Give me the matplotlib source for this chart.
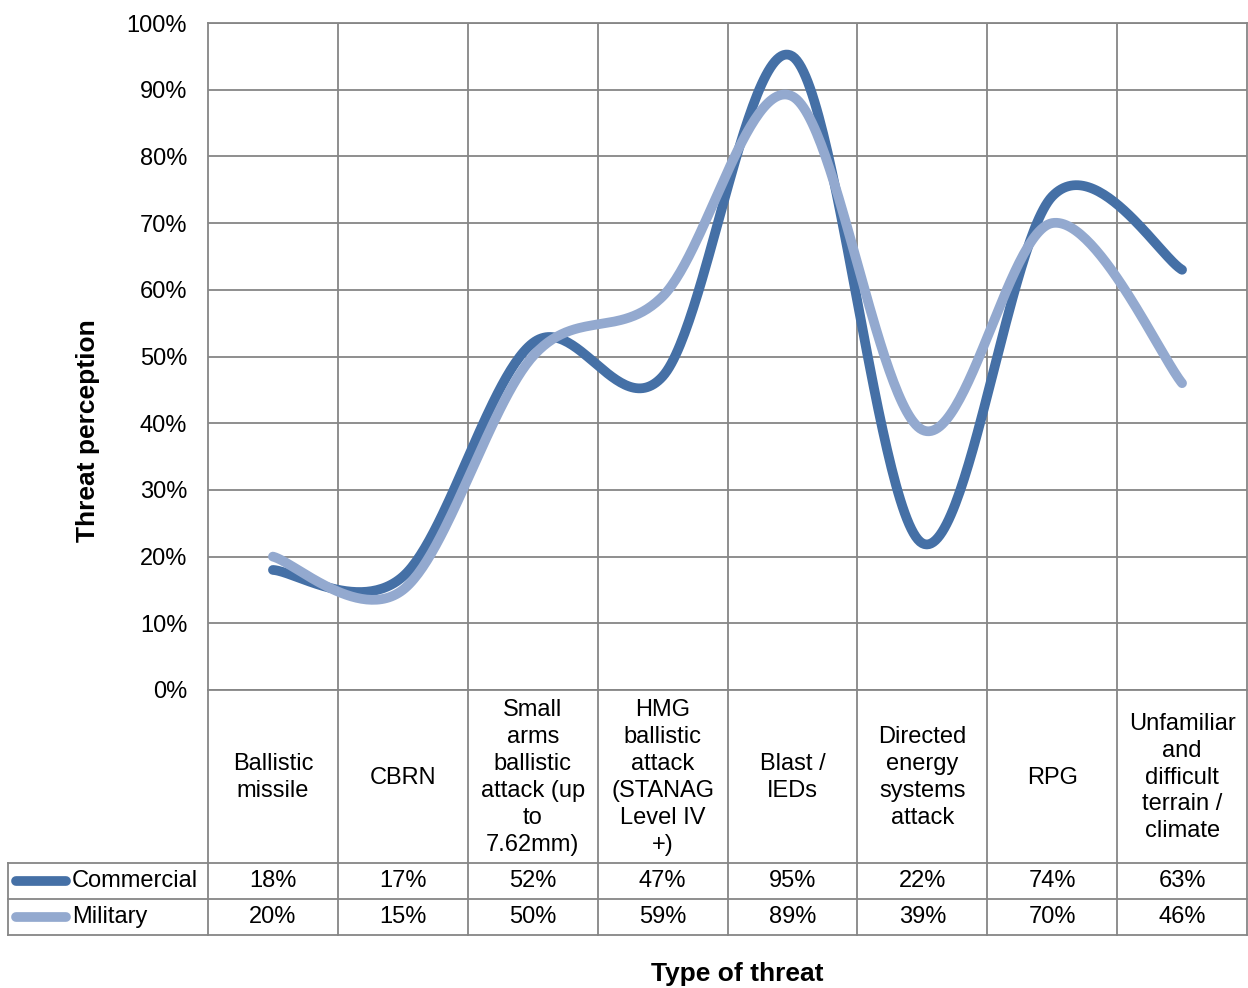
import numpy as np
import matplotlib.pyplot as plt

plt.rcParams['font.family'] = ['Liberation Sans', 'DejaVu Sans']

# Threat categories (wrapped as in the data table)
categories = ['Ballistic\nmissile', 'CBRN',
              'Small\narms\nballistic\nattack (up\nto\n7.62mm)',
              'HMG\nballistic\nattack\n(STANAG\nLevel IV\n+)',
              'Blast /\nIEDs', 'Directed\nenergy\nsystems\nattack', 'RPG',
              'Unfamiliar\nand\ndifficult\nterrain /\nclimate']
commercial = [18, 17, 52, 47, 95, 22, 74, 63]
military = [20, 15, 50, 59, 89, 39, 70, 46]
series_names = ['Commercial', 'Military']
colors = ['#4570a6', '#93a9cf']
yticks = [0, 10, 20, 30, 40, 50, 60, 70, 80, 90, 100]

W, H = 1248, 988
grid_c = '#868686'
fs = 17
lw = 7


def smooth(y, n=60):
    # Catmull-Rom style bezier smoothing between consecutive points
    x = np.arange(len(y)) + 0.5
    p = np.column_stack([x, y]).astype(float)
    pts = np.vstack([p[0], p, p[-1]])
    out = []
    t = np.linspace(0, 1, n)[:, None]
    for i in range(1, len(pts) - 2):
        p0, p1, p2, p3 = pts[i - 1], pts[i], pts[i + 1], pts[i + 2]
        c1 = p1 + (p2 - p0) / 6
        c2 = p2 - (p3 - p1) / 6
        seg = ((1 - t) ** 3) * p1 + 3 * ((1 - t) ** 2) * t * c1 \
            + 3 * (1 - t) * t ** 2 * c2 + t ** 3 * p2
        out.append(seg)
    s = np.vstack(out)
    return s[:, 0], s[:, 1]


fig = plt.figure(figsize=(W / 100, H / 100), dpi=100)

# plot area
x0, x1, y_top, y_bot = 208, 1247, 23, 690
ax = fig.add_axes([x0 / W, 1 - y_bot / H, (x1 - x0) / W, (y_bot - y_top) / H])
n = len(categories)
ax.set_xlim(0, n)
ax.set_ylim(0, 100)
ax.set_yticks(yticks)
ax.set_yticklabels(['%d%%' % v for v in yticks], fontsize=fs)
ax.set_xticks([])
ax.tick_params(axis='y', length=0, pad=15)
ax.grid(axis='y', color=grid_c, lw=1.3)
for k in range(1, n):
    ax.axvline(k, color=grid_c, lw=1.3, zorder=1)
for sp in ax.spines.values():
    sp.set_color(grid_c)
    sp.set_linewidth(1.3)
ax.set_axisbelow(True)

for vals, c in zip([commercial, military], colors):
    sx, sy = smooth(vals)
    ax.plot(sx, sy, color=c, lw=lw, solid_capstyle='round', clip_on=False, zorder=3)

# data table below the plot, in pixel coordinates
ov = fig.add_axes([0, 0, 1, 1], zorder=-1)
ov.set_xlim(0, W)
ov.set_ylim(H, 0)
ov.axis('off')

r_cat, r1, r2, r_end = 690, 863, 899, 935
left = 8
colw = (x1 - x0) / n
for k in range(n + 1):
    xx = x0 + k * colw
    ov.plot([xx, xx], [r_cat, r_end], color=grid_c, lw=1.3)
for yy in [r1, r2, r_end]:
    ov.plot([left, x1], [yy, yy], color=grid_c, lw=1.3)
ov.plot([left, left], [r1, r_end], color=grid_c, lw=1.3)

for k, lab in enumerate(categories):
    cx = x0 + (k + 0.5) * colw
    ov.text(cx, (r_cat + r1) / 2 + 1, lab, ha='center', va='center',
            fontsize=fs, linespacing=1.29)

for (ya, yb), name, vals, c in zip([(r1, r2), (r2, r_end)], series_names,
                                   [commercial, military], colors):
    yc = (ya + yb) / 2
    ov.plot([16, 66], [yc, yc], color=c, lw=lw, solid_capstyle='round')
    ov.text(72, yc, name, ha='left', va='center', fontsize=fs)
    for k, v in enumerate(vals):
        ov.text(x0 + (k + 0.5) * colw, yc, '%d%%' % v, ha='center',
                va='center', fontsize=fs)

fig.text(88 / W, 1 - 431 / H, 'Threat perception', rotation=90, ha='center',
         va='center', fontsize=19, fontweight='bold')
fig.text(737 / W, 1 - 974 / H, 'Type of threat', ha='center', va='center',
         fontsize=19, fontweight='bold')

fig.savefig('out.png', dpi=100)
